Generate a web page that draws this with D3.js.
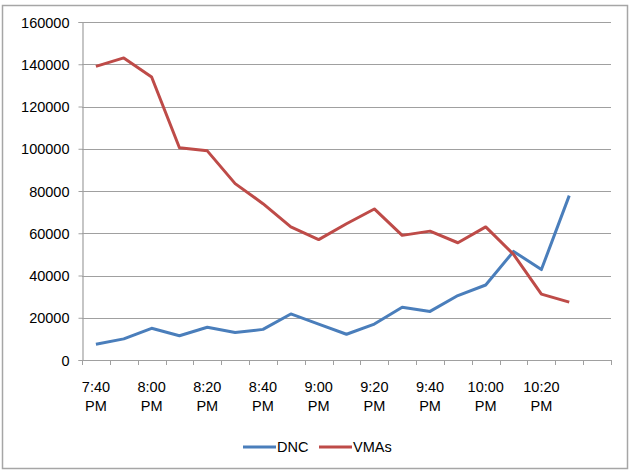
<!DOCTYPE html>
<html>
<head>
<meta charset="utf-8">
<script src="https://cdn.jsdelivr.net/npm/d3@7"></script>
<style>
	body { margin: 0; background: #fff; }
	svg text { font-family: "Liberation Sans", Arial, sans-serif; fill: #000; }
</style>
</head>
<body>
<div id="chart"></div>
<script>
var times = ['7:40', '7:50', '8:00', '8:10', '8:20', '8:30', '8:40', '8:50', '9:00', '9:10',
	'9:20', '9:30', '9:40', '9:50', '10:00', '10:10', '10:20', '10:30', '10:40'];
var shownLabels = ['7:40', '8:00', '8:20', '8:40', '9:00', '9:20', '9:40', '10:00', '10:20'];
var dnc = [7500, 10000, 15000, 11500, 15500, 13000, 14500, 21800, 17000, 12200,
	17000, 25000, 23000, 30500, 35500, 51400, 42800, 77800];
var vmas = [139000, 143000, 134000, 100500, 99000, 83500, 74000, 63000, 57000, 64500,
	71500, 59000, 61000, 55500, 63000, 50000, 31200, 27400];
var yTicks = [0, 20000, 40000, 60000, 80000, 100000, 120000, 140000, 160000];
var seriesNames = ['DNC', 'VMAs'];
var color = ['#4A7EBB', '#BE4B48'];

var width = 630;
var height = 474;
var plotLeft = 82, plotRight = 611, plotTop = 22, plotBottom = 360;

var svg = d3.select('#chart').append('svg')
	.attr('width', width)
	.attr('height', height);

// outer frame
svg.append('rect')
	.attr('x', 2.5).attr('y', 5.5)
	.attr('width', 625).attr('height', 463)
	.attr('fill', '#fff')
	.attr('stroke', '#a6a6a6')
	.attr('stroke-width', 1.5);

/* Scales */
var xScale = d3.scaleBand()
	.domain(times)
	.range([plotLeft, plotRight]);

var yScale = d3.scaleLinear()
	.domain([0, 160000])
	.range([plotBottom, plotTop]);

// gridlines
svg.append('g')
	.selectAll('line')
	.data(yTicks.slice(1)).enter()
	.append('line')
	.attr('x1', plotLeft).attr('x2', plotRight)
	.attr('y1', d => Math.round(yScale(d)) + 0.5)
	.attr('y2', d => Math.round(yScale(d)) + 0.5)
	.attr('stroke', '#a0a0a0')
	.attr('stroke-width', 1.2);

// y axis
var yAxis = d3.axisLeft(yScale).tickValues(yTicks).tickSize(4).tickPadding(9).tickFormat(d3.format('d'));
var gy = svg.append('g')
	.attr('transform', `translate(${plotLeft + 0.5}, 0)`)
	.call(yAxis);
gy.select('.domain').attr('stroke', '#a0a0a0').attr('stroke-width', 1.2);
gy.selectAll('.tick line').attr('stroke', '#a0a0a0');
gy.selectAll('.tick text').style('font-size', '14.5px').attr('dy', '0.36em');

// x axis, ticks on band boundaries
var bounds = times.map(t => xScale(t)).concat([plotRight]);
var gx = svg.append('g');
gx.append('line')
	.attr('x1', plotLeft).attr('x2', plotRight)
	.attr('y1', plotBottom + 0.5).attr('y2', plotBottom + 0.5)
	.attr('stroke', '#a0a0a0').attr('stroke-width', 1.2);
gx.selectAll('.xt')
	.data(bounds).enter()
	.append('line')
	.attr('class', 'xt')
	.attr('x1', d => Math.round(d) + 0.5).attr('x2', d => Math.round(d) + 0.5)
	.attr('y1', plotBottom).attr('y2', plotBottom + 5)
	.attr('stroke', '#a0a0a0');

var labels = gx.selectAll('.xl')
	.data(shownLabels).enter()
	.append('text')
	.attr('class', 'xl')
	.attr('text-anchor', 'middle')
	.style('font-size', '14.5px')
	.attr('transform', d => `translate(${xScale(d) + xScale.bandwidth() / 2}, 0)`);
labels.append('tspan').attr('x', 0).attr('y', 392).text(d => d);
labels.append('tspan').attr('x', 0).attr('y', 411).text('PM');

/* Lines */
var line = d3.line()
	.x((d, i) => xScale(times[i]) + xScale.bandwidth() / 2)
	.y(d => yScale(d));

svg.append('g')
	.selectAll('path')
	.data([dnc, vmas]).enter()
	.append('path')
	.attr('d', d => line(d))
	.attr('fill', 'none')
	.attr('stroke', (d, i) => color[i])
	.attr('stroke-width', 3)
	.attr('stroke-linejoin', 'round');

/* Legend */
var legendX = [243, 319];
var lg = svg.append('g')
	.selectAll('g')
	.data(seriesNames).enter()
	.append('g')
	.attr('transform', (d, i) => `translate(${legendX[i]}, 447)`);
lg.append('line')
	.attr('x1', 0).attr('x2', 33)
	.attr('stroke', (d, i) => color[i])
	.attr('stroke-width', 3);
lg.append('text')
	.attr('x', 34)
	.attr('dy', '0.36em')
	.style('font-size', '14.5px')
	.text(d => d);
</script>
</body>
</html>
